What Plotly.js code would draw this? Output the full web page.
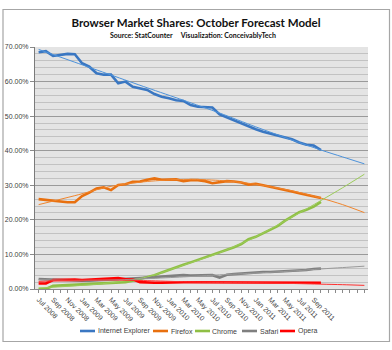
<!DOCTYPE html>
<html>
<head>
<meta charset="utf-8">
<script src="https://cdn.plot.ly/plotly-3.0.1.min.js"></script>
<style>
  html, body { margin: 0; padding: 0; background: #ffffff; }
  #chart { width: 392px; height: 350px; }
</style>
</head>
<body>
<div id="chart"></div>
<script>
// All months on the category axis (data Jul 2008 - Oct 2011, forecast to Apr 2012)
const allMonths = [
  'Jul 2008','Aug 2008','Sep 2008','Oct 2008','Nov 2008','Dec 2008',
  'Jan 2009','Feb 2009','Mar 2009','Apr 2009','May 2009','Jun 2009',
  'Jul 2009','Aug 2009','Sep 2009','Oct 2009','Nov 2009','Dec 2009',
  'Jan 2010','Feb 2010','Mar 2010','Apr 2010','May 2010','Jun 2010',
  'Jul 2010','Aug 2010','Sep 2010','Oct 2010','Nov 2010','Dec 2010',
  'Jan 2011','Feb 2011','Mar 2011','Apr 2011','May 2011','Jun 2011',
  'Jul 2011','Aug 2011','Sep 2011','Oct 2011',
  'Nov 2011','Dec 2011','Jan 2012','Feb 2012','Mar 2012','Apr 2012'
];
const dataMonths = allMonths.slice(0, 40);

// Tick labels (every other month up to Sep 2011)
const tickLabels = ['Jul 2008','Sep 2008','Nov 2008','Jan 2009','Mar 2009','May 2009',
  'Jul 2009','Sep 2009','Nov 2009','Jan 2010','Mar 2010','May 2010','Jul 2010',
  'Sep 2010','Nov 2010','Jan 2011','Mar 2011','May 2011','Jul 2011','Sep 2011'];

// Market shares (%)
const ie = [68.5,68.8,67.4,67.8,68.0,67.9,65.3,64.3,62.4,62.0,62.0,59.5,60.0,58.5,58.1,57.6,
  56.4,55.6,55.2,54.6,54.4,53.2,52.7,52.6,52.5,50.5,49.6,48.9,47.9,46.9,46.2,45.5,44.9,44.3,
  43.8,43.3,42.4,41.7,41.5,40.2];
const firefox = [26.0,25.8,25.5,25.2,25.1,25.1,26.9,27.9,29.1,29.4,28.6,30.1,30.3,31.0,31.1,31.6,
  32.0,31.6,31.6,31.7,31.2,31.5,31.5,31.2,30.6,30.9,31.2,31.1,30.8,30.2,30.4,30.0,29.6,29.2,
  28.8,28.2,27.7,27.2,26.7,26.3];
const chrome = [0.0,0.0,0.9,1.0,1.0,1.1,1.2,1.3,1.4,1.5,1.6,1.8,2.0,2.4,2.9,3.4,4.0,4.8,5.6,6.3,
  7.0,7.7,8.4,9.1,9.8,10.5,11.3,12.1,13.0,14.4,15.1,16.1,17.1,18.2,19.7,20.9,22.2,22.9,23.8,25.2];
const safari = [2.9,2.8,2.6,2.5,2.4,2.4,2.4,2.4,2.5,2.5,2.6,2.7,2.8,3.0,3.1,3.2,3.4,3.6,3.8,4.0,
  4.0,3.9,4.0,4.0,4.0,3.3,4.1,4.3,4.5,4.6,4.8,4.9,4.9,5.0,5.1,5.1,5.3,5.5,5.8,5.9];
const opera = [1.6,1.6,2.6,2.7,2.6,2.7,2.6,2.7,2.8,2.9,3.1,3.2,2.8,2.8,2.0,1.8,1.8,1.8,1.9,1.95,
  1.95,1.95,1.95,1.95,1.95,1.95,1.95,1.95,1.8,1.8,1.8,1.8,1.8,1.75,1.75,1.75,1.75,1.75,1.75,1.8];

// Trendline (forecast) values
const trendMonths = ['Jul 2008','Dec 2008','May 2009','Oct 2009','Mar 2010','Aug 2010',
  'Jan 2011','Jun 2011','Oct 2011','Jan 2012','Apr 2012'];
const ieTrend      = [69.3,65.6,61.9,58.2,54.6,50.9,46.9,43.1,40.2,38.2,36.2];
const firefoxTrend = [24.4,27.0,29.7,31.1,31.7,31.4,30.3,28.4,26.3,24.4,22.1];
const chromeTrend  = [0.3,0.9,1.8,3.5,6.9,10.5,15.1,20.8,25.6,29.3,33.2];
const safariTrend  = [2.7,2.5,2.6,3.0,3.5,4.1,4.6,5.2,5.8,6.2,6.6];
const operaTrend   = [2.2,2.5,2.6,2.4,2.1,1.9,1.8,1.6,1.4,1.25,1.05];

const names  = ['Internet Explorer','Firefox','Chrome','Safari','Opera'];
const series = [ie, firefox, chrome, safari, opera];
const trends = [ieTrend, firefoxTrend, chromeTrend, safariTrend, operaTrend];
const colors = ['#3a77c2','#e8700f','#8fbf45','#7f7f7f','#ff0000'];
const trendColors = ['#4d92da','#f0862e','#9ccc5a','#9a9a9a','#ff3030'];

const traces = [];
series.forEach((s, k) => {
  traces.push({
    type: 'scatter', mode: 'lines', name: names[k],
    x: dataMonths, y: s,
    line: { color: colors[k], width: 2.6 },
    hoverinfo: 'skip', showlegend: false
  });
});
trends.forEach((t, k) => {
  traces.push({
    type: 'scatter', mode: 'lines', showlegend: false,
    x: trendMonths, y: t,
    line: { color: trendColors[k], width: 1, shape: 'spline', smoothing: 0.8 },
    hoverinfo: 'skip'
  });
});

const tickText = allMonths.map(m => tickLabels.includes(m) ? m : '');

// ---- layout geometry (pixels) ----
const W = 392, H = 350;
const M = { l: 35, r: 24, t: 47, b: 61 };
const plotW = W - M.l - M.r, plotH = H - M.t - M.b;
const px2x = p => (p - M.l) / plotW;
const py2y = p => (H - M.b - p) / plotH;

// Legend drawn as a row below the chart
const legendY = 331;
const legendStart = [80, 153, 195, 242, 280];
const legendLineLen = 15;

const shapes = [{
  type: 'rect', xref: 'paper', yref: 'paper', layer: 'below',
  x0: px2x(3), x1: px2x(389.5), y0: py2y(341.5), y1: py2y(9.5),
  line: { color: '#a6a6a6', width: 1.2 }, fillcolor: 'rgba(0,0,0,0)'
}];
const annotations = [{
  text: '<b>Source: StatCounter&nbsp;&nbsp;&nbsp;&nbsp;&nbsp;Visualization: ConceivablyTech</b>',
  xref: 'paper', yref: 'paper', x: px2x(193), y: py2y(35),
  xanchor: 'center', yanchor: 'middle', showarrow: false,
  font: { family: 'Lato, Liberation Sans, sans-serif', size: 7, color: '#111111' }
}];
names.forEach((n, k) => {
  const x0 = legendStart[k];
  shapes.push({
    type: 'line', xref: 'paper', yref: 'paper',
    x0: px2x(x0), x1: px2x(x0 + legendLineLen), y0: py2y(legendY), y1: py2y(legendY),
    line: { color: colors[k], width: 2.6 }
  });
  annotations.push({
    text: n, xref: 'paper', yref: 'paper',
    x: px2x(x0 + legendLineLen + 0.5), y: py2y(legendY),
    xanchor: 'left', yanchor: 'middle', showarrow: false,
    font: { family: 'Liberation Sans, Arial, sans-serif', size: 7, color: '#404040' }
  });
});

const layout = {
  width: W, height: H,
  paper_bgcolor: '#ffffff',
  plot_bgcolor: '#e4e4e4',
  margin: { l: M.l, r: M.r, t: M.t, b: M.b, autoexpand: false },
  font: { family: 'Liberation Sans, Arial, sans-serif', color: '#404040', size: 7 },
  title: {
    text: '<b>Browser Market Shares: October Forecast Model</b>',
    font: { family: 'Lato, Liberation Sans, sans-serif', size: 11.5, color: '#111111' },
    x: 0.5, xanchor: 'center', y: 1 - 23 / H, yanchor: 'middle'
  },
  annotations: annotations,
  shapes: shapes,
  xaxis: {
    type: 'category', automargin: false,
    categoryorder: 'array', categoryarray: allMonths,
    range: [-0.5, 45.5],
    tickmode: 'array', tickvals: allMonths, ticktext: tickText,
    tickangle: 45,
    ticks: 'outside', ticklen: 3, tickcolor: '#8a8a8a', tickwidth: 1,
    showline: true, linecolor: '#8a8a8a', linewidth: 1,
    showgrid: false, zeroline: false,
    tickfont: { size: 7, color: '#404040' },
    fixedrange: true
  },
  yaxis: {
    automargin: false,
    range: [0, 70],
    dtick: 10, tick0: 0,
    tickformat: '.2f', ticksuffix: '%',
    ticks: 'outside', ticklen: 4, tickcolor: '#8a8a8a',
    showline: true, linecolor: '#7a7a7a', linewidth: 1,
    showgrid: true, gridcolor: '#9a9a9a', gridwidth: 1,
    zeroline: false,
    minor: { dtick: 2, showgrid: true, gridcolor: '#c2c2c2', gridwidth: 1 },
    tickfont: { size: 7, color: '#404040' },
    fixedrange: true
  },
  showlegend: false
};

Plotly.newPlot('chart', traces, layout, { staticPlot: true, displayModeBar: false });
</script>
</body>
</html>
